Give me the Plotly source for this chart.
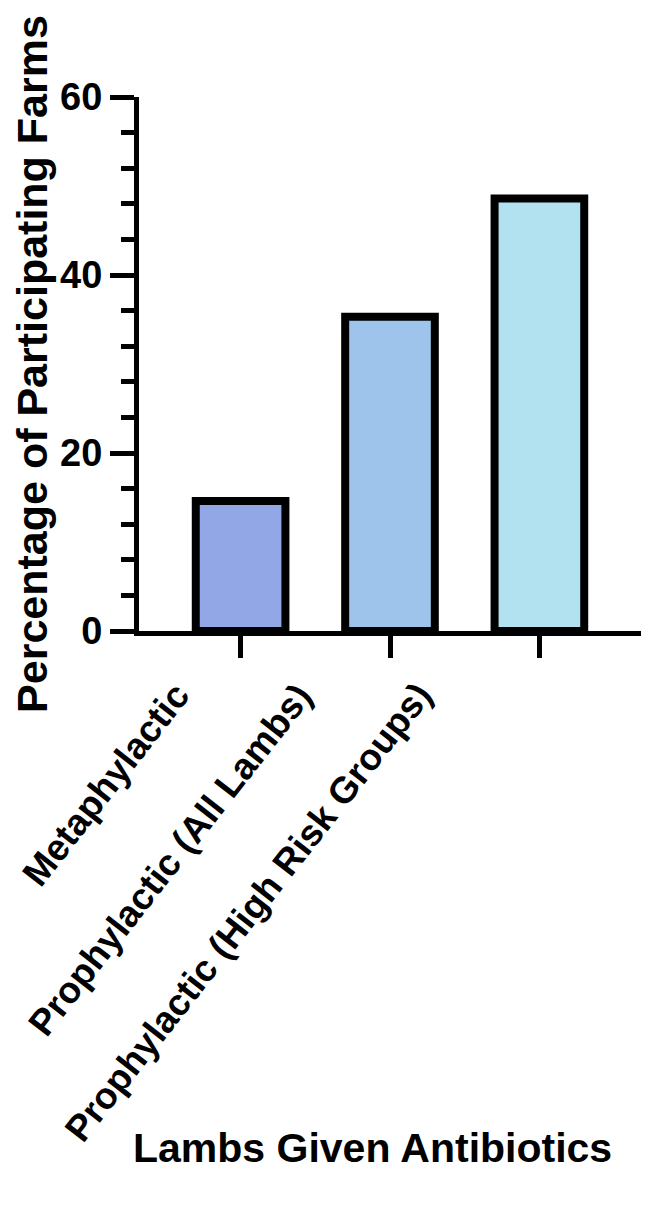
import plotly.graph_objects as go

categories = ["Metaphylactic", "Prophylactic (All Lambs)", "Prophylactic (High Risk Groups)"]
values = [14.6, 35.3, 48.6]
bar_colors = ["rgb(146,168,230)", "rgb(158,196,236)", "rgb(178,226,240)"]
y_tickvals = [0, 20, 40, 60]
y_ticktext = ["0", "20", "40", "60"]
x_title = "Lambs Given Antibiotics"
y_title = "Percentage of Participating Farms"

# styling: horizontal pixel offsets of the rotated category labels from their ticks
label_xshift = [-40, -67, -97]

FONT = "Liberation Sans, Arial, sans-serif"

# page body has an 8px default margin in the browser
L, R, T, B = 131, 17, 89, 584
W, H = 650, 1207

fig = go.Figure()
fig.add_trace(go.Bar(
    x=categories,
    y=values,
    width=0.6,
    marker=dict(color=bar_colors, line=dict(color="black", width=8)),
))

fig.update_layout(
    width=W, height=H,
    plot_bgcolor="white", paper_bgcolor="white",
    margin=dict(l=L, r=R, t=T, b=B),
    showlegend=False,
    font=dict(family=FONT, color="black", weight="bold"),
)

fig.update_yaxes(
    range=[0, 60],
    tickvals=y_tickvals, ticktext=y_ticktext,
    ticks="outside", ticklen=24, tickwidth=5, tickcolor="black",
    showline=True, linewidth=5, linecolor="black",
    showgrid=False, zeroline=False,
    tickfont=dict(size=38, family=FONT, weight="bold"),
    minor=dict(dtick=4, ticks="outside", ticklen=13, tickwidth=5, tickcolor="black", showgrid=False),
    title=dict(text=y_title, font=dict(size=43, family=FONT, weight="bold"), standoff=28),
    automargin=False,
)

fig.update_xaxes(
    range=[-0.68, 2.68],
    ticks="outside", ticklen=22, tickwidth=5, tickcolor="black",
    showline=True, linewidth=5, linecolor="black",
    showgrid=False, zeroline=False,
    showticklabels=False,
    automargin=False,
)

# rotated category labels, placed at each category through the x axis
for cat, dx in zip(categories, label_xshift):
    fig.add_annotation(
        x=cat, xref="x", y=0, yref="paper",
        text=cat, textangle=-52,
        xanchor="right", yanchor="top",
        xshift=dx, yshift=-42,
        showarrow=False,
        font=dict(size=37, family=FONT, weight="bold", color="black"),
    )

plot_w = W - L - R
plot_h = H - T - B
fig.add_annotation(
    text=x_title, xref="paper", yref="paper",
    x=(364 - L) / plot_w, y=-(1140 - (H - B)) / plot_h,
    xanchor="center", yanchor="middle", showarrow=False,
    font=dict(size=41, family=FONT, weight="bold", color="black"),
)

fig.write_html("out.html")
